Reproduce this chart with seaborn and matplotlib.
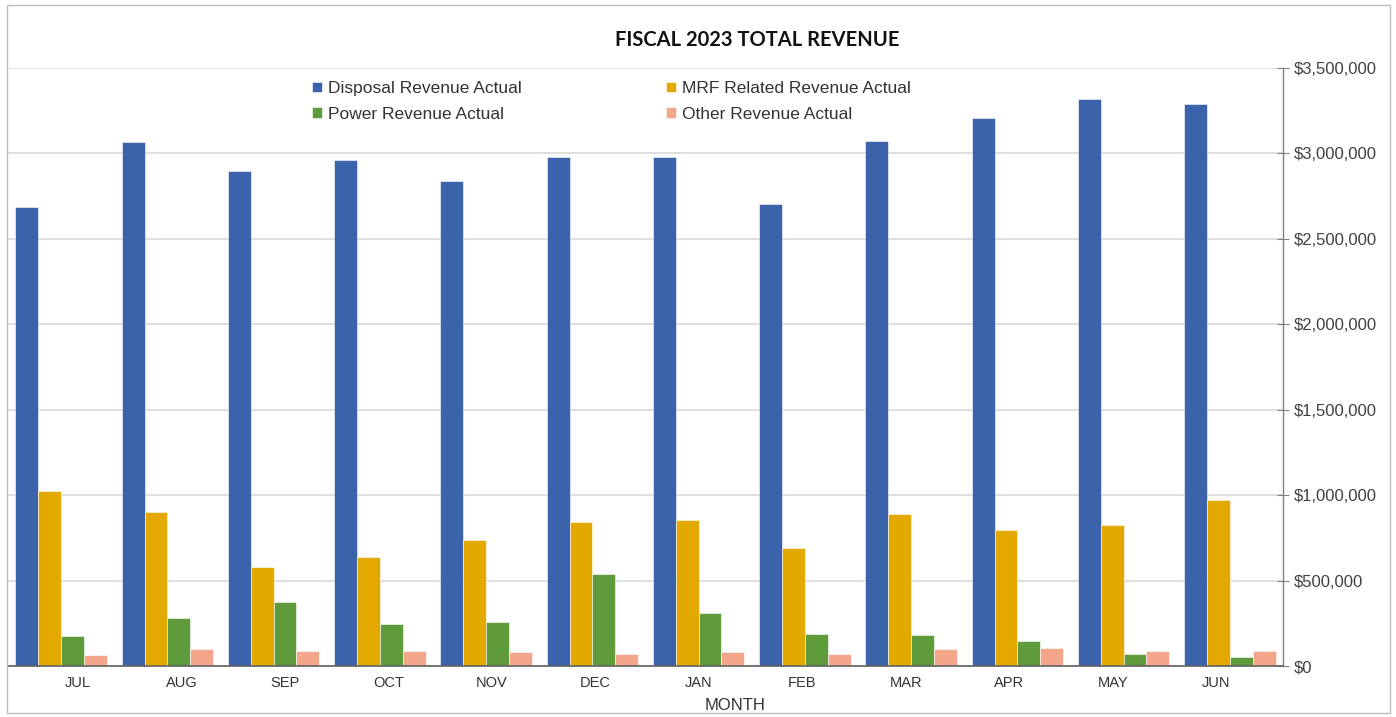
import matplotlib
matplotlib.use("Agg")
import matplotlib.pyplot as plt
import matplotlib.ticker as mticker
from matplotlib.patches import Rectangle
import numpy as np
import pandas as pd
import seaborn as sns

months = ["JUL", "AUG", "SEP", "OCT", "NOV", "DEC", "JAN", "FEB", "MAR", "APR", "MAY", "JUN"]
series = ["Disposal Revenue Actual", "MRF Related Revenue Actual",
          "Power Revenue Actual", "Other Revenue Actual"]
disposal = [2684000, 3064000, 2900000, 2959000, 2836000, 2982000,
            2982000, 2702000, 3070000, 3205000, 3316000, 3292000]
mrf = [1023000, 900000, 579000, 637000, 737000, 842000,
       854000, 690000, 889000, 795000, 825000, 971000]
power = [175000, 281000, 374000, 246000, 257000, 538000,
         310000, 187000, 181000, 146000, 70000, 53000]
other = [64000, 99000, 88000, 88000, 82000, 70000,
         82000, 70000, 99000, 105000, 88000, 88000]
y_ticks = [0, 500000, 1000000, 1500000, 2000000, 2500000, 3000000, 3500000]
colors = ["#3b63ac", "#e3a900", "#5f9a3b", "#f3a68a"]

df = pd.DataFrame({
    "Month": months * 4,
    "Series": sum([[s] * len(months) for s in series], []),
    "Value": disposal + mrf + power + other,
})

sns.set_theme(style="white")
plt.rcParams["font.family"] = ["Liberation Sans", "DejaVu Sans"]

W, H = 1396, 717
fig = plt.figure(figsize=(W / 100, H / 100), dpi=100)
ax = fig.add_axes([8 / W, 1 - 666 / H, (1283 - 8) / W, (666 - 68) / H])

sns.barplot(data=df, x="Month", y="Value", hue="Series", order=months,
            hue_order=series, palette=colors, width=0.86, ax=ax,
            edgecolor="#ffffff", linewidth=0.4, saturation=1)

ax.set_xlim(-0.5, len(months) - 0.5)
ax.set_ylim(0, 3500000)
ax.set_yticks(y_ticks)
ax.yaxis.tick_right()
ax.yaxis.set_major_formatter(mticker.FuncFormatter(lambda v, p: f"${v:,.0f}"))
ax.tick_params(axis="y", which="major", direction="inout", length=8, width=0.8,
               color="#808080", labelsize=12, labelcolor="#404040", pad=4)
ax.grid(axis="y", color="#d9d9d9", linewidth=1.2)
ax.set_axisbelow(True)

# category boundaries as tick marks, labels slightly offset like the original
n = len(months)
ax.set_xticks(np.arange(n - 1) + 0.5, minor=True)
ax.tick_params(axis="x", which="minor", direction="inout", length=8, width=0.8, color="#808080")
label_pos = 0.16 + np.arange(n) * 0.9736
ax.set_xticks(label_pos)
ax.set_xticklabels(months)
ax.tick_params(axis="x", which="major", length=0, labelsize=10.5, labelcolor="#333333", pad=7)

for s in ["top", "left"]:
    ax.spines[s].set_visible(False)
ax.spines["bottom"].set_color("#606060")
ax.spines["bottom"].set_linewidth(1.2)
ax.spines["right"].set_color("#808080")
ax.spines["right"].set_linewidth(1.0)

ax.set_xlabel("")
ax.set_ylabel("")
fig.text(735 / W, 1 - 705 / H, "MONTH", ha="center", va="center",
         fontsize=12, color="#333333")

handles, labels = ax.get_legend_handles_labels()
order = [0, 2, 1, 3]  # row-wise: Disposal, MRF / Power, Other
ax.legend([handles[i] for i in order], [labels[i] for i in order],
          loc="upper left", bbox_to_anchor=(312 / W, 1 - 81 / H),
          bbox_transform=fig.transFigure, ncol=2, frameon=False,
          fontsize=12.5, handlelength=0.55, handleheight=0.55,
          handletextpad=0.35, columnspacing=8.35, labelspacing=0.62,
          borderaxespad=0, borderpad=0, labelcolor="#333333")

fig.text(757 / W, 1 - 40 / H, "FISCAL 2023 TOTAL REVENUE", ha="center", va="center",
         fontsize=14.5, fontweight="bold", family=["Lato", "DejaVu Sans"], color="#111111")

fig.patches.append(Rectangle((7 / W, 1 - 713 / H), (1390 - 7) / W, (713 - 5) / H,
                             transform=fig.transFigure, fill=False,
                             edgecolor="#bfbfbf", linewidth=1.0))

fig.savefig("out.png", dpi=100)
